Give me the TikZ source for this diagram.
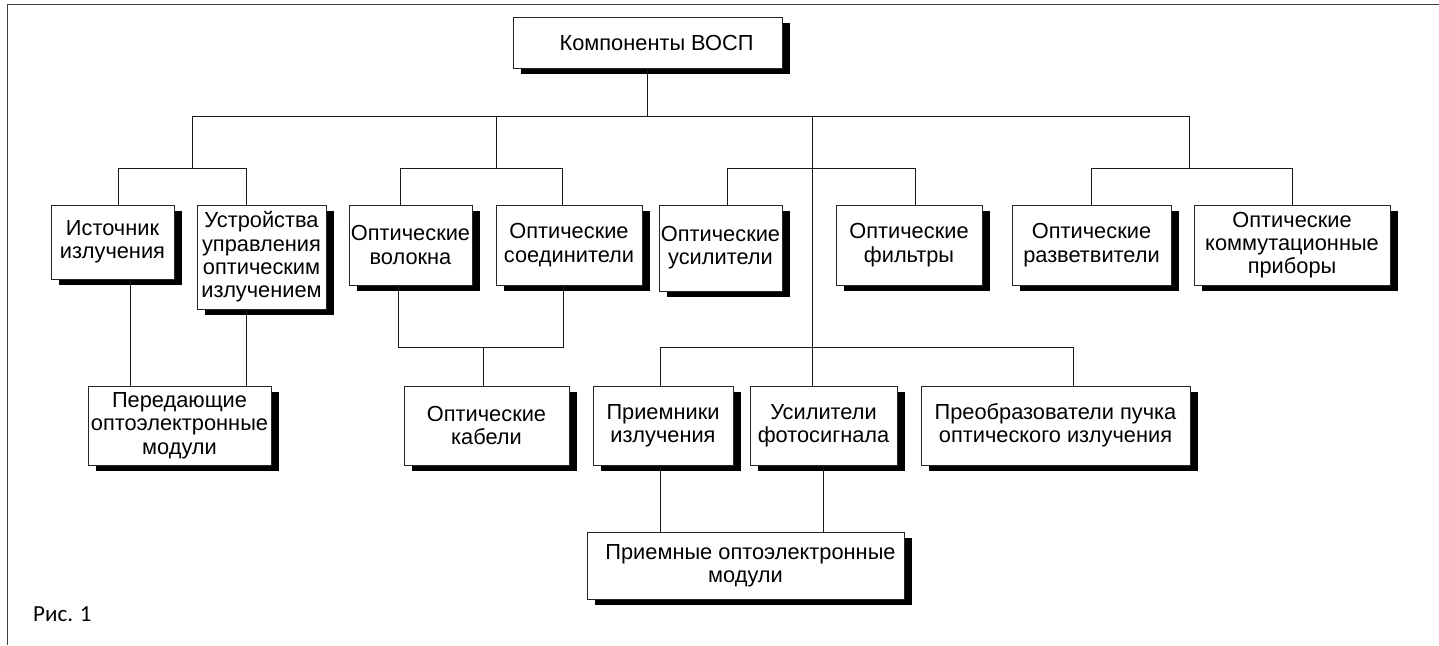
\documentclass[tikz,border=0pt]{standalone}
\usepackage{fontspec}
\setmainfont{Liberation Sans}
\newfontfamily\carl{Carlito}
\usetikzlibrary{shadows}
\tikzset{
  box/.style={draw=black!85, line width=0.9pt, fill=white, inner sep=0pt, align=center,
    font=\fontsize{21.8}{23.3}\selectfont,
    drop shadow={shadow xshift=8pt, shadow yshift=-6pt, fill=black, opacity=1}},
  conn/.style={draw=black!90, line width=0.9pt},
  frame/.style={draw=black!75, line width=1.6pt}
}
\begin{document}
\begin{tikzpicture}[x=1pt,y=-1pt]
\useasboundingbox (0,0) rectangle (1439,645);
% frame
\draw[frame] (7.3,645) -- (7.3,4.3) -- (1439,4.3);
% boxes
\node[box, minimum width=269pt, minimum height=51pt] (top) at (647.5,42.5) {\hspace*{18pt}Компоненты ВОСП};
\node[box, minimum width=123pt, minimum height=74pt] (ist) at (112.5,242) {Источник\\излучения};
\node[box, minimum width=129pt, minimum height=104pt] (ustr) at (261.5,257) {Устройства\\управления\\оптическим\\излучением};
\node[box, minimum width=123pt, minimum height=80pt] (vol) at (410.5,245) {Оптические\\волокна};
\node[box, minimum width=146pt, minimum height=80pt] (soed) at (569,245) {Оптические\\соединители};
\node[box, minimum width=123pt, minimum height=86pt] (usil) at (720.5,248) {\raisebox{3pt}{\begin{tabular}{@{}c@{}}Оптические\\усилители\end{tabular}}};
\node[box, minimum width=146pt, minimum height=80pt] (filt) at (909,245) {Оптические\\фильтры};
\node[box, minimum width=159pt, minimum height=80pt] (razv) at (1091.5,245) {Оптические\\разветвители};
\node[box, minimum width=196pt, minimum height=80pt] (komm) at (1292,245) {Оптические\\коммутационные\\приборы};
\node[box, minimum width=183pt, minimum height=79pt] (per) at (179.5,425.5) {Передающие\\оптоэлектронные\\модули};
\node[box, minimum width=165pt, minimum height=79pt] (kab) at (486.5,425.5) {Оптические\\кабели};
\node[box, minimum width=140pt, minimum height=79pt] (prm) at (663,425.5) {Приемники\\излучения};
\node[box, minimum width=147pt, minimum height=79pt] (ufs) at (823.5,425.5) {Усилители\\фотосигнала};
\node[box, minimum width=269pt, minimum height=79pt] (preo) at (1055.5,425.5) {Преобразователи пучка\\оптического излучения};
\node[box, minimum width=317pt, minimum height=67pt] (pom) at (745.5,565.5) {\hspace*{10pt}Приемные оптоэлектронные\\модули};
% caption
\node[font=\carl\fontsize{23}{26}\selectfont, anchor=base west, inner sep=0pt] (cap) at (33,621) {Рис. 1};
% bus coordinates
\coordinate (b0L) at (192,116);
\coordinate (b0R) at (1189,116);
\coordinate (b0a) at (496,116);
\coordinate (b0c) at (812,116);
\coordinate (g1) at (192,168);
\coordinate (g1a) at (118,168);
\coordinate (g1b) at (246,168);
\coordinate (g2) at (496,168);
\coordinate (g2a) at (400,168);
\coordinate (g2b) at (562,168);
\coordinate (g3a) at (727,168);
\coordinate (g3b) at (915,168);
\coordinate (g4) at (1189,168);
\coordinate (g4a) at (1091,168);
\coordinate (g4b) at (1292,168);
\coordinate (k1) at (398,347);
\coordinate (k2) at (563,347);
\coordinate (k3) at (483,347);
\coordinate (p1) at (660,347);
\coordinate (p2) at (1073,347);
\coordinate (x1) at (130,0);
\coordinate (x2) at (246,0);
\coordinate (x3) at (660,0);
\coordinate (x4) at (823,0);
% connectors
\draw[conn] (top.south) -- (top.south |- b0L);
\draw[conn] (b0L) -- (b0R);
\draw[conn] (b0L) -- (g1);
\draw[conn] (b0a) -- (g2);
\draw[conn] (b0R) -- (g4);
\draw[conn] (b0c) -- (b0c |- ufs.north);
\draw[conn] (g1a |- ist.north) -- (g1a) -- (g1b) -- (g1b |- ustr.north);
\draw[conn] (g2a |- vol.north) -- (g2a) -- (g2b) -- (g2b |- soed.north);
\draw[conn] (g3a |- usil.north) -- (g3a) -- (g3b) -- (g3b |- filt.north);
\draw[conn] (g4a |- razv.north) -- (g4a) -- (g4b) -- (g4b |- komm.north);
\draw[conn] (x1 |- ist.south) -- (x1 |- per.north);
\draw[conn] (x2 |- ustr.south) -- (x2 |- per.north);
\draw[conn] (k1 |- vol.south) -- (k1) -- (k2) -- (k2 |- soed.south);
\draw[conn] (k3) -- (k3 |- kab.north);
\draw[conn] (p1 |- prm.north) -- (p1) -- (p2) -- (p2 |- preo.north);
\draw[conn] (x3 |- prm.south) -- (x3 |- pom.north);
\draw[conn] (x4 |- ufs.south) -- (x4 |- pom.north);
\end{tikzpicture}
\end{document}
